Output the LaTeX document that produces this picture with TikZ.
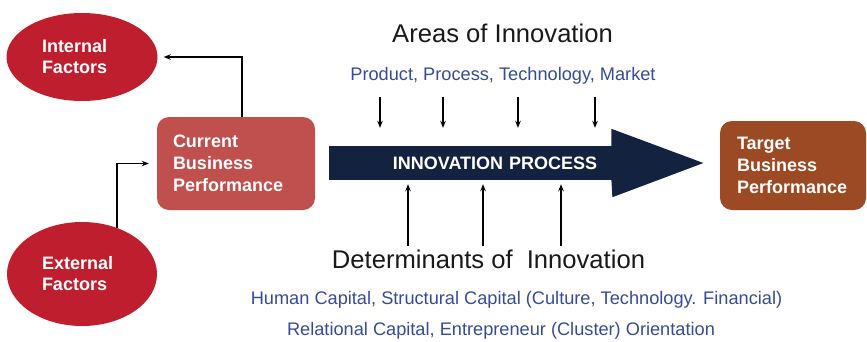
\documentclass[tikz,border=0pt]{standalone}
\usepackage{fontspec}
\setmainfont{Liberation Sans}
\usepackage{tikz}
\usetikzlibrary{arrows.meta,shapes.geometric,calc}

\definecolor{factorred}{RGB}{190,30,45}
\definecolor{currentred}{RGB}{192,80,77}
\definecolor{targetbrown}{RGB}{155,74,36}
\definecolor{procnavy}{RGB}{19,35,63}
\definecolor{listblue}{RGB}{55,75,150}

\begin{document}
\begin{tikzpicture}[x=1pt,y=-1pt,
    factor/.style={ellipse,fill=factorred,text=white,align=left,text width=80pt,inner sep=0pt,
        font=\fontsize{18}{21}\selectfont\bfseries},
    perf/.style={rounded corners=12pt,text=white,align=left,
        font=\fontsize{18}{22}\selectfont\bfseries},
    heading/.style={font=\fontsize{25.6}{30}\selectfont,text=black!90,anchor=base},
    listing/.style={font=\fontsize{18.2}{22}\selectfont,text=listblue,anchor=base},
    arr/.style={-{Stealth[length=7pt,width=5.5pt]},line width=1.3pt}]
        \useasboundingbox (0,0) rectangle (867,341);

        % Factors
        \node[factor,minimum width=151pt,minimum height=88pt] (intf) at (82,57) {Internal\\Factors};
        \node[factor,minimum width=150pt,minimum height=104pt] (extf) at (82,274) {External\\Factors};

        % Business performance boxes
        \node[perf,fill=currentred,text width=126pt,inner xsep=16pt,minimum height=93pt] (cur) at (236,163.5) {Current\\Business\\Performance};
        \node[perf,fill=targetbrown,text width=112pt,inner xsep=17pt,minimum height=89pt] (tgt) at (793,165.5) {Target\\Business\\Performance};

        % Innovation process arrow
        \node[fill=procnavy,text=white,anchor=west,text width=253pt,inner xsep=15pt,minimum height=34pt,align=right,
            font=\fontsize{18}{22}\selectfont\bfseries] (proc) at (329,163) {INNOVATION PROCESS};
        \fill[procnavy] ([xshift=-1pt]proc.north east) -- ++(0,-17) -- ([xshift=91pt]proc.east)
            -- ($(proc.south east)+(0,17)$) -- ([xshift=-1pt]proc.south east) -- cycle;

        % Areas of innovation
        \node[heading] (areas) at (502.5,42) {Areas of Innovation};
        \node[listing] (arealist) at (503,80) {Product, Process, Technology, Market};
        \foreach \x in {380,443,518,595} {
            \draw[arr,shorten >=18pt] ($(arealist.south -| \x,0)+(0,10)$) -- (proc.north -| \x,0);
        }

        % Determinants of innovation
        \node[heading] (det) at (488.5,268) {Determinants of\ \ Innovation};
        \node[listing] (detlist) at (516.5,304) {Human Capital, Structural Capital (Culture, Technology. Financial)};
        \node[listing] (detlisttwo) at (501,335) {Relational Capital, Entrepreneur (Cluster) Orientation};
        \foreach \x in {408,483,561} {
            \draw[arr,shorten >=4pt] (det.north -| \x,0) -- (proc.south -| \x,0);
        }

        % Feedback to the factors
        \draw[arr,shorten >=6pt] ([xshift=6pt]cur.north) |- (intf.east);
        \draw[arr,shorten >=8pt] (extf.53) |- (cur.west);
    \end{tikzpicture}
\end{document}
